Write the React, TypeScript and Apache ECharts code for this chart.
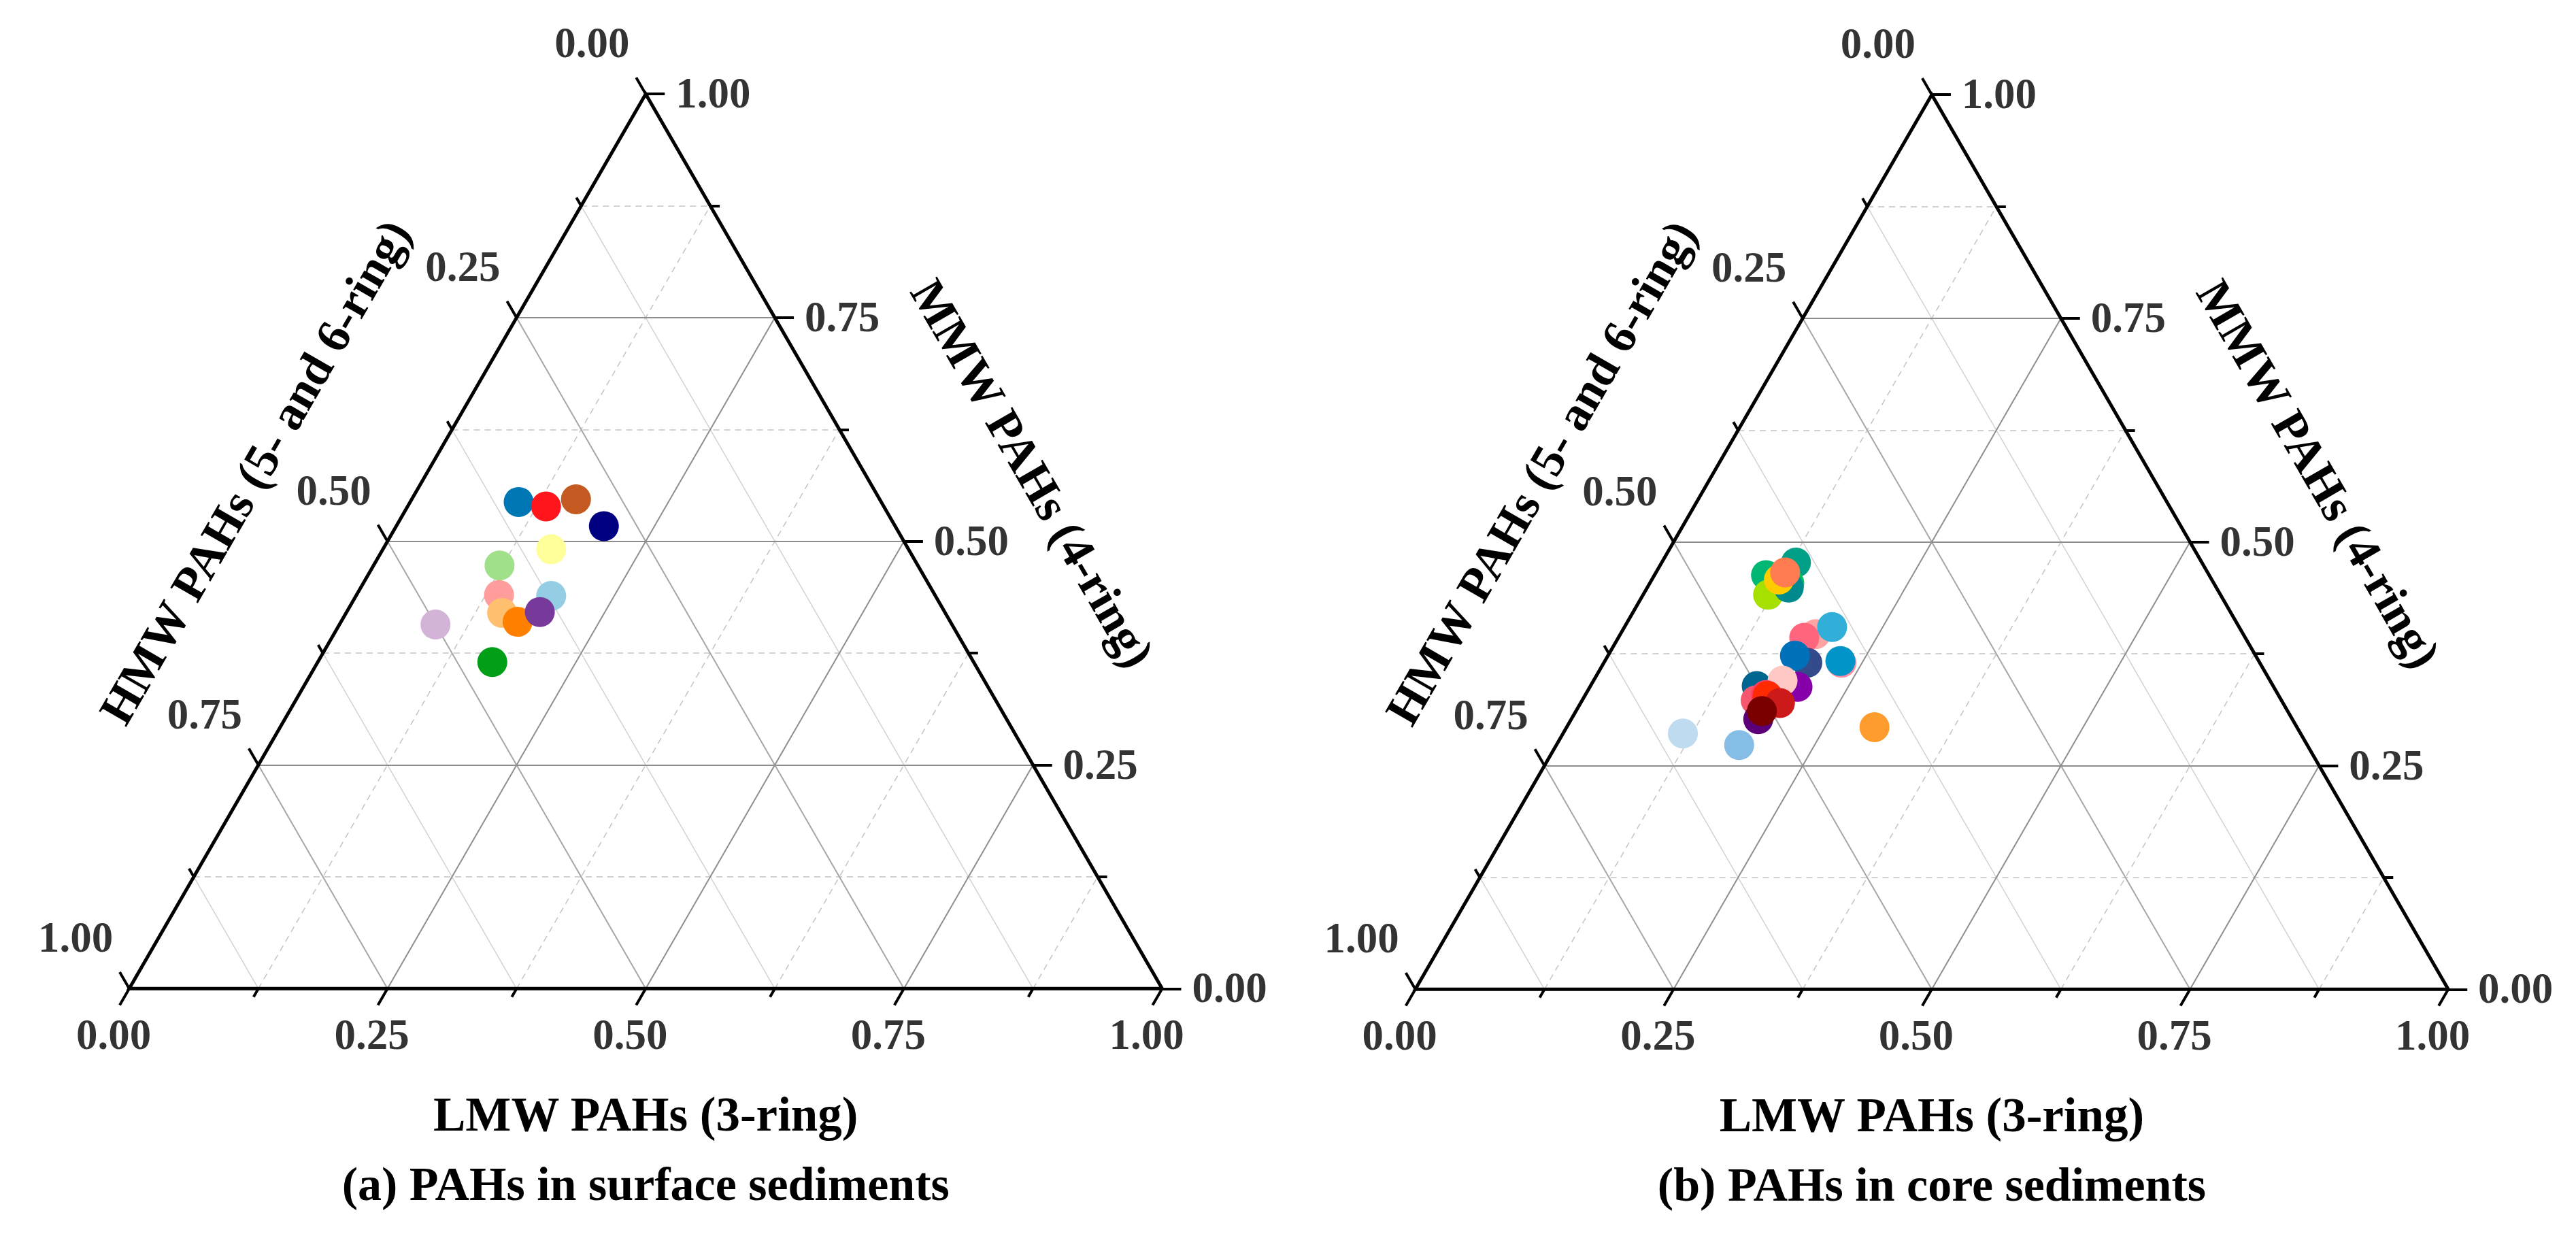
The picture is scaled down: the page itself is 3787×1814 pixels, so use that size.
import React, { useEffect, useRef } from "react";
import * as echarts from "echarts";

// ---------------- data ----------------
const tickValues = [0, 0.25, 0.5, 0.75, 1];
const tickLabels = ["0.00", "0.25", "0.50", "0.75", "1.00"];
const minorValues = [0.125, 0.375, 0.625, 0.875];
const majorGridValues = [0.25, 0.5, 0.75];

const titleLMW = "LMW PAHs (3-ring)";
const titleMMW = "MMW PAHs (4-ring)";
const titleHMW = "HMW PAHs (5- and 6-ring)";
const panelTitles = ["(a) PAHs in surface sediments", "(b) PAHs in core sediments"];

// (a) surface sediments: fractions LMW (3-ring), MMW (4-ring), HMW (5- and 6-ring)
const surfaceLMW = [0.105, 0.134, 0.159, 0.201, 0.163, 0.122, 0.138, 0.189, 0.151, 0.171, 0.187, 0.093, 0.169];
const surfaceMMW = [0.544, 0.539, 0.547, 0.517, 0.491, 0.473, 0.440, 0.439, 0.420, 0.410, 0.421, 0.407, 0.365];
const surfaceHMW = [0.351, 0.327, 0.294, 0.282, 0.346, 0.405, 0.422, 0.372, 0.429, 0.419, 0.392, 0.500, 0.466];
const surfaceColors = [
  "#0077B5", "#FF151B", "#C45A21", "#000080", "#FFFF99", "#A1E08A", "#FF9C9C",
  "#95CEE4", "#FEBF6F", "#FF8000", "#773A9B", "#D4B3D8", "#009F17",
];

// (b) core sediments
const coreLMW = [
  0.130, 0.135, 0.108, 0.121, 0.137, 0.123, 0.125,
  0.189, 0.180, 0.201, 0.197, 0.181, 0.230, 0.228,
  0.161, 0.201, 0.183, 0.168, 0.175, 0.177, 0.193, 0.181, 0.180,
  0.116, 0.177, 0.298,
];
const coreMMW = [
  0.477, 0.454, 0.463, 0.441, 0.449, 0.458, 0.466,
  0.397, 0.393, 0.405, 0.365, 0.373, 0.365, 0.367,
  0.339, 0.338, 0.345, 0.323, 0.329, 0.328, 0.320, 0.302, 0.311,
  0.286, 0.273, 0.293,
];
const coreHMW = [
  0.393, 0.411, 0.429, 0.438, 0.414, 0.419, 0.409,
  0.414, 0.427, 0.394, 0.438, 0.446, 0.405, 0.405,
  0.500, 0.461, 0.472, 0.509, 0.496, 0.495, 0.487, 0.517, 0.509,
  0.598, 0.550, 0.409,
];
const coreColors = [
  "#00A088", "#00C060", "#00B873", "#A6E000", "#008A8E", "#FFCC00", "#FF7B52",
  "#FFA3A3", "#FF667E", "#32AFD8", "#334A8B", "#0071B8", "#FF8C9F", "#0094C8",
  "#00668F", "#8500A8", "#FFC8C4", "#F5586E", "#FF3D6A", "#FF2A00", "#CC1919", "#5B0079", "#7A0000",
  "#BEDBF0", "#85BDE6", "#FF9C2E",
];

// ---------------- layout ----------------
const PAGE_W = 3787;
const PAGE_H = 1814;
const SIDE = 1518.5;
const HEIGHT = (SIDE * Math.sqrt(3)) / 2;
const panels = [
  { left: 190, base: 1453.3 },
  { left: 2080.7, base: 1454.3 },
];
const FONT = "'Liberation Serif', 'Times New Roman', serif";
const TICK_MAJOR = 28 / SIDE;
const TICK_MINOR = 14 / SIDE;

// ternary (LMW, MMW) -> cartesian in grid units (x: 0..1 along base, y: MMW 0..1 in height units)
const toXY = (l: number, m: number) => [l + 0.5 * m, m];

const seg = (a: number[], b: number[]) => ({ coords: [a, b] });

function linesSeries(idx: number, data: any[], color: string, width: number, type: any, z: number) {
  return {
    type: "lines",
    coordinateSystem: "cartesian2d",
    xAxisIndex: idx,
    yAxisIndex: idx,
    clip: false,
    silent: true,
    z,
    lineStyle: { color, width, type, opacity: 1, curveness: 0, cap: "butt" },
    data,
  };
}

function labelSeries(idx: number, points: number[][], texts: string[], offset: number[]) {
  return {
    type: "scatter",
    xAxisIndex: idx,
    yAxisIndex: idx,
    silent: true,
    symbolSize: 1,
    itemStyle: { color: "rgba(0,0,0,0)" },
    z: 10,
    data: points.map((p, i) => ({
      value: p,
      label: {
        show: true,
        position: "inside",
        offset,
        formatter: texts[i],
        fontFamily: FONT,
        fontWeight: "bold",
        fontSize: 63,
        color: "#000",
      },
    })),
  };
}

function panelSeries(idx: number, L: number[], M: number[], colors: string[]) {
  const s: any[] = [];
  // grid lines
  const mmwMinor = minorValues.map((v) => seg(toXY(0, v), toXY(1 - v, v)));
  const lmwMinor = minorValues.map((v) => seg(toXY(v, 0), toXY(v, 1 - v)));
  const hmwMinor = minorValues.map((v) => seg(toXY(0, 1 - v), toXY(1 - v, 0)));
  const mmwMajor = majorGridValues.map((v) => seg(toXY(0, v), toXY(1 - v, v)));
  const lmwMajor = majorGridValues.map((v) => seg(toXY(v, 0), toXY(v, 1 - v)));
  const hmwMajor = majorGridValues.map((v) => seg(toXY(0, 1 - v), toXY(1 - v, 0)));
  s.push(linesSeries(idx, [...mmwMinor, ...lmwMinor], "#c4c4c4", 1.5, [9, 7], 1));
  s.push(linesSeries(idx, hmwMinor, "#d2d2d2", 1.5, "solid", 1));
  s.push(linesSeries(idx, hmwMajor, "#a6a6a6", 2, "solid", 2));
  s.push(linesSeries(idx, [...mmwMajor, ...lmwMajor], "#8e8e8e", 2, "solid", 2));

  // ticks
  const ticks: any[] = [];
  const addTicks = (vals: number[], t: number) => {
    vals.forEach((v) => {
      ticks.push(seg([v, 0], [v - 0.5 * t, -t])); // bottom (LMW)
      ticks.push(seg([1 - 0.5 * v, v], [1 - 0.5 * v + t, v])); // right (MMW)
      ticks.push(seg([0.5 * (1 - v), 1 - v], [0.5 * (1 - v) - 0.5 * t, 1 - v + t])); // left (HMW)
    });
  };
  addTicks(tickValues, TICK_MAJOR);
  addTicks(minorValues, TICK_MINOR);
  s.push(linesSeries(idx, ticks, "#000", 4, "solid", 3));

  // triangle frame
  s.push({
    ...linesSeries(idx, [{ coords: [[0, 0], [1, 0], [0.5, 1], [0, 0], [1, 0]] }], "#000", 5, "solid", 4),
    polyline: true,
  });

  // tick labels
  s.push(labelSeries(idx, tickValues.map((v) => [v, 0]), tickLabels, [-23, 68]));
  s.push(labelSeries(idx, tickValues.map((v) => [1 - 0.5 * v, v]), tickLabels, [99, -1]));
  s.push(labelSeries(idx, tickValues.map((v) => [0.5 * (1 - v), 1 - v]), tickLabels, [-79, -75]));

  // data points
  s.push({
    type: "scatter",
    xAxisIndex: idx,
    yAxisIndex: idx,
    silent: true,
    symbol: "circle",
    symbolSize: 44,
    z: 20,
    data: L.map((l, i) => ({
      value: toXY(l, M[i]),
      itemStyle: { color: colors[i], opacity: 1 },
    })),
  });
  return s;
}

function titleGraphics() {
  const g: any[] = [];
  panels.forEach((p, i) => {
    const cx = p.left + SIDE / 2;
    const style = (text: string, size: number) => ({
      text,
      fontFamily: FONT,
      fontWeight: "bold",
      fontSize: size,
      fill: "#000",
      align: "center",
      verticalAlign: "middle",
    });
    // bottom axis title
    g.push({ type: "text", x: cx, y: p.base + 185, style: style(titleLMW, 71) });
    // panel caption
    g.push({ type: "text", x: cx, y: p.base + 287, style: style(panelTitles[i], 70) });
    // left edge title (HMW)
    const lmx = p.left + SIDE * 0.25;
    const lmy = p.base - HEIGHT * 0.5;
    g.push({
      type: "text",
      x: lmx - 0.866 * 220 + 0.5 * -9,
      y: lmy - 0.5 * 220 - 0.866 * -9,
      rotation: Math.PI / 3,
      style: style(titleHMW, 71),
    });
    // right edge title (MMW)
    const rmx = p.left + SIDE * 0.75;
    const rmy = p.base - HEIGHT * 0.5;
    g.push({
      type: "text",
      x: rmx + 0.866 * 214 + 0.5 * 8,
      y: rmy - 0.5 * 214 + 0.866 * 8,
      rotation: -Math.PI / 3,
      style: style(titleMMW, 71),
    });
  });
  return g;
}

export default function App() {
  const ref = useRef<HTMLDivElement>(null);
  useEffect(() => {
    document.body.style.margin = "0";
    if (!ref.current) return;
    const chart = echarts.init(ref.current, undefined, { renderer: "svg" });
    const option: any = {
      animation: false,
      backgroundColor: "#ffffff",
      grid: panels.map((p) => ({
        left: p.left,
        top: p.base - HEIGHT,
        width: SIDE,
        height: HEIGHT,
        show: false,
        containLabel: false,
      })),
      xAxis: panels.map((_, i) => ({ gridIndex: i, type: "value", min: 0, max: 1, show: false })),
      yAxis: panels.map((_, i) => ({ gridIndex: i, type: "value", min: 0, max: 1, show: false })),
      series: [
        ...panelSeries(0, surfaceLMW, surfaceMMW, surfaceColors),
        ...panelSeries(1, coreLMW, coreMMW, coreColors),
      ],
      graphic: titleGraphics(),
    };
    chart.setOption(option);
    return () => chart.dispose();
  }, []);
  return <div ref={ref} style={{ width: PAGE_W, height: PAGE_H }} />;
}

// keep HMW arrays referenced (third component of each composition)
export const compositions = { surfaceHMW, coreHMW };
